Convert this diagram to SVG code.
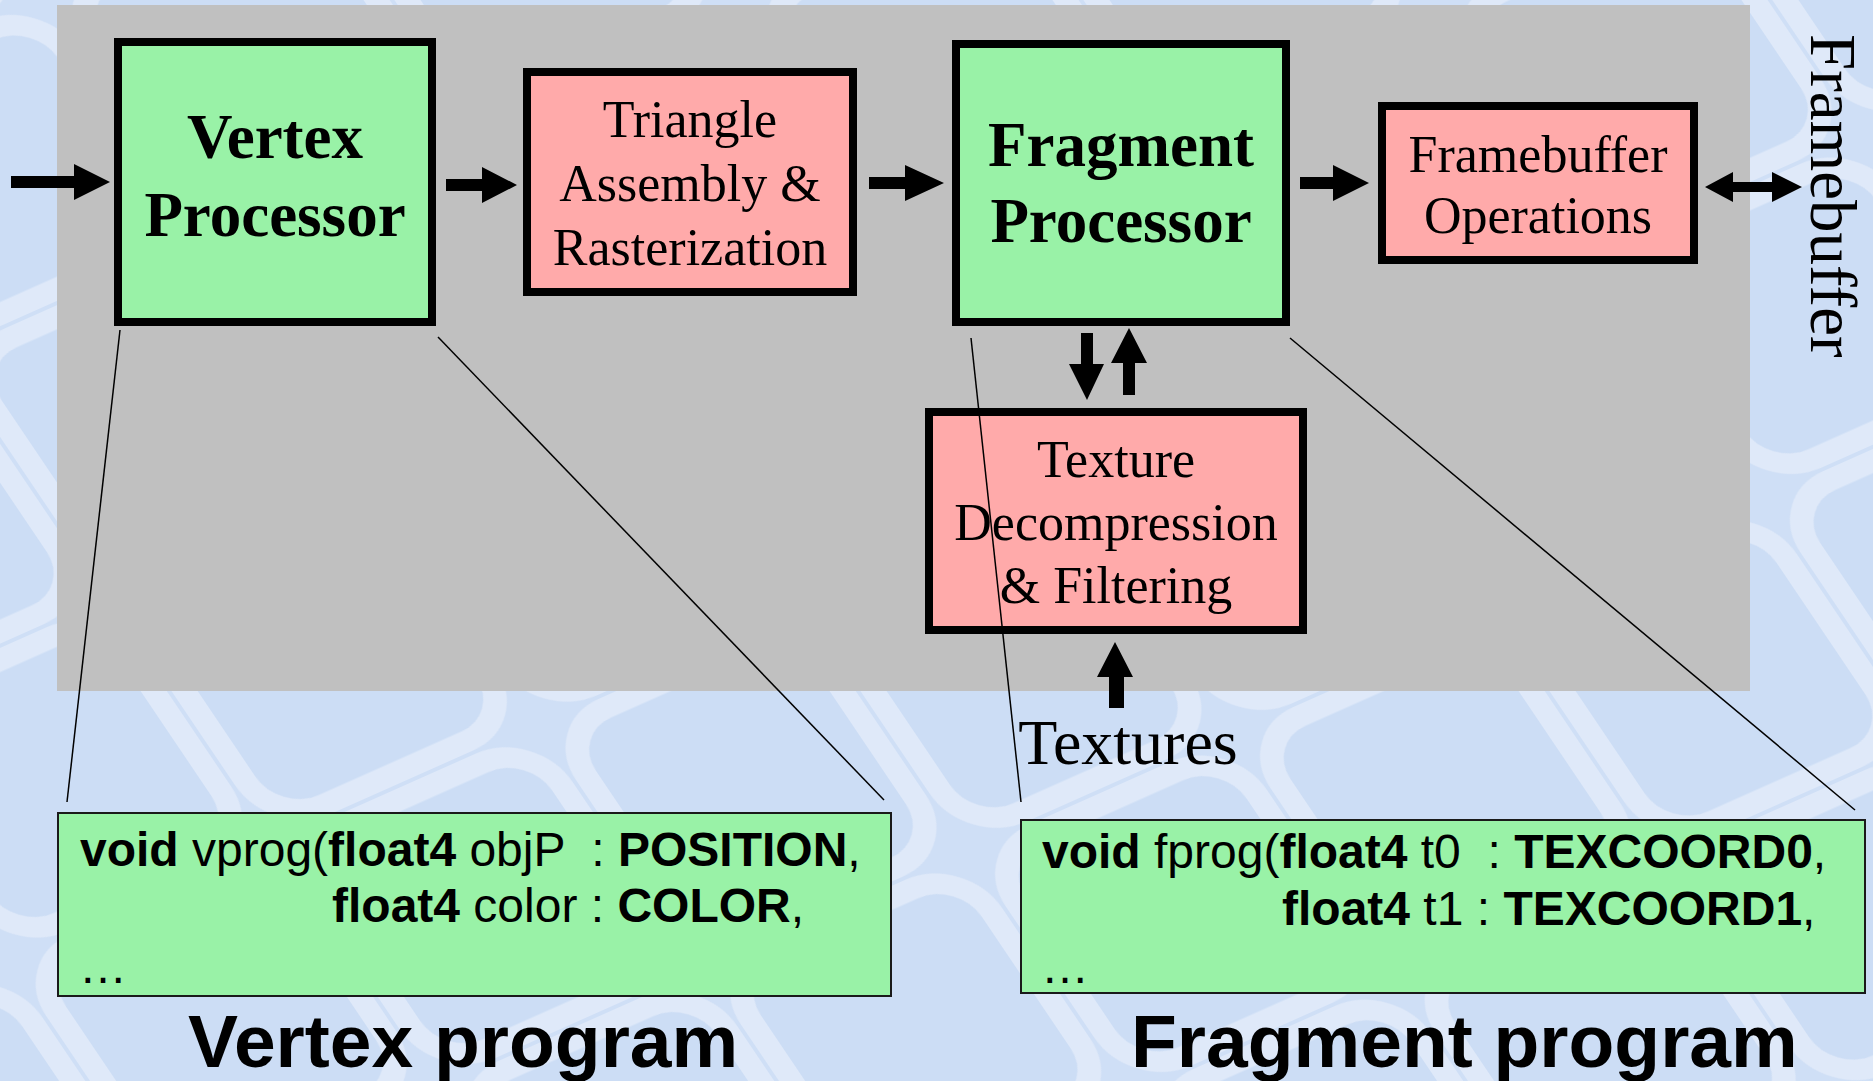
<svg xmlns="http://www.w3.org/2000/svg" width="1873" height="1081" viewBox="0 0 1873 1081">
  <style>
    .stage { stroke: #000; stroke-width: 8; }
    .prog { fill: #99f2a7; }
    .fixed { fill: #ffaaaa; }
    .code-box { fill: #99f2a7; stroke: #1a1a1a; stroke-width: 2; }
    .serif { font-family: "Liberation Serif", "Times New Roman", serif; fill: #000; }
    .sans { font-family: "Liberation Sans", Arial, sans-serif; fill: #000; }
    .big { font-size: 63px; font-weight: bold; }
    .mid { font-size: 52px; }
    .code { font-size: 48px; }
    .b { font-weight: bold; }
    .title { font-size: 75px; font-weight: bold; }
    .lead { stroke: #000; stroke-width: 1.5; fill: none; }
    .arrow { fill: #000; }
  </style>
  <defs>
    <pattern id="tiles" width="290" height="290" patternUnits="userSpaceOnUse" patternTransform="rotate(-24) skewX(10) translate(40 10)">
      <rect x="0" y="0" width="290" height="290" fill="#cfdff6"/>
      <rect x="13" y="13" width="264" height="264" rx="54" fill="#ccddf5" stroke="#dfe9f9" stroke-width="22"/>
    </pattern>
  </defs>

  <!-- backdrop -->
  <rect x="0" y="0" width="1873" height="1081" fill="url(#tiles)"/>
  <!-- pipeline panel -->
  <rect x="57" y="5" width="1693" height="686" fill="#c0c0c0"/>

  <g id="vertex-processor">
    <rect class="stage prog" x="118" y="42" width="314" height="280"/>
    <text class="serif big" text-anchor="middle"><tspan x="275" y="158">Vertex</tspan><tspan x="275" y="236">Processor</tspan></text>
  </g>

  <g id="triangle-assembly">
    <rect class="stage fixed" x="527" y="72" width="326" height="220"/>
    <text class="serif mid" text-anchor="middle"><tspan x="690" y="137">Triangle</tspan><tspan x="690" y="201">Assembly &amp;</tspan><tspan x="690" y="265">Rasterization</tspan></text>
  </g>

  <g id="fragment-processor">
    <rect class="stage prog" x="956" y="44" width="330" height="278"/>
    <text class="serif big" text-anchor="middle"><tspan x="1121" y="166">Fragment</tspan><tspan x="1121" y="242">Processor</tspan></text>
  </g>

  <g id="framebuffer-operations">
    <rect class="stage fixed" x="1382" y="106" width="312" height="154"/>
    <text class="serif mid" text-anchor="middle"><tspan x="1538" y="172">Framebuffer</tspan><tspan x="1538" y="233">Operations</tspan></text>
  </g>

  <g id="texture-unit">
    <rect class="stage fixed" x="929" y="412" width="374" height="218"/>
    <text class="serif mid" text-anchor="middle"><tspan x="1116" y="477">Texture</tspan><tspan x="1116" y="540">Decompression</tspan><tspan x="1116" y="603">&amp; Filtering</tspan></text>
  </g>

  <g id="framebuffer">
    <text class="serif" font-size="65" transform="translate(1811 34) rotate(90)">Framebuffer</text>
  </g>

  <g id="textures">
    <text class="serif" font-size="64" x="1128" y="764" text-anchor="middle">Textures</text>
  </g>

  <g id="vertex-program">
    <rect class="code-box" x="58" y="813" width="833" height="183"/>
    <text class="sans code" xml:space="preserve" x="80" y="866"><tspan class="b">void</tspan> vprog(<tspan class="b">float4</tspan> objP  : <tspan class="b">POSITION</tspan>,</text>
    <text class="sans code" xml:space="preserve" x="332" y="922"><tspan class="b">float4</tspan> color : <tspan class="b">COLOR</tspan>,</text>
    <text class="sans code" x="79" y="983">…</text>
    <text class="sans title" x="188" y="1067">Vertex program</text>
  </g>

  <g id="fragment-program">
    <rect class="code-box" x="1021" y="820" width="844" height="173"/>
    <text class="sans code" xml:space="preserve" x="1042" y="868"><tspan class="b">void</tspan> fprog(<tspan class="b">float4</tspan> t0  : <tspan class="b">TEXCOORD0</tspan>,</text>
    <text class="sans code" xml:space="preserve" x="1282" y="925"><tspan class="b">float4</tspan> t1 : <tspan class="b">TEXCOORD1</tspan>,</text>
    <text class="sans code" x="1041" y="983">…</text>
    <text class="sans title" x="1131" y="1067">Fragment program</text>
  </g>

  <g id="connectors">
    <!-- data flow arrows -->
    <polygon class="arrow" points="11,176 74,176 74,164 110,182 74,200 74,188 11,188"/>
    <polygon class="arrow" points="446,179 482,179 482,167 517,185 482,203 482,191 446,191"/>
    <polygon class="arrow" points="869,177 905,177 905,165 944,183 905,201 905,189 869,189"/>
    <polygon class="arrow" points="1300,177 1333,177 1333,165 1369,183 1333,201 1333,189 1300,189"/>
    <polygon class="arrow" points="1705,187 1733,172 1733,182 1772,182 1772,172 1802,187 1772,202 1772,192 1733,192 1733,202"/>
    <polygon class="arrow" points="1081,333 1093,333 1093,364 1104,364 1087,400 1069,364 1081,364"/>
    <polygon class="arrow" points="1129,328 1147,363 1135,363 1135,395 1123,395 1123,363 1111,363"/>
    <polygon class="arrow" points="1115,642 1133,677 1124,677 1124,708 1109,708 1109,677 1097,677"/>
    <!-- call-out lines from the programmable stages to their programs -->
    <line class="lead" x1="120" y1="330" x2="67" y2="802"/>
    <line class="lead" x1="438" y1="337" x2="884" y2="800"/>
    <line class="lead" x1="971" y1="338" x2="1021" y2="802"/>
    <line class="lead" x1="1290" y1="338" x2="1855" y2="810"/>
  </g>
</svg>
